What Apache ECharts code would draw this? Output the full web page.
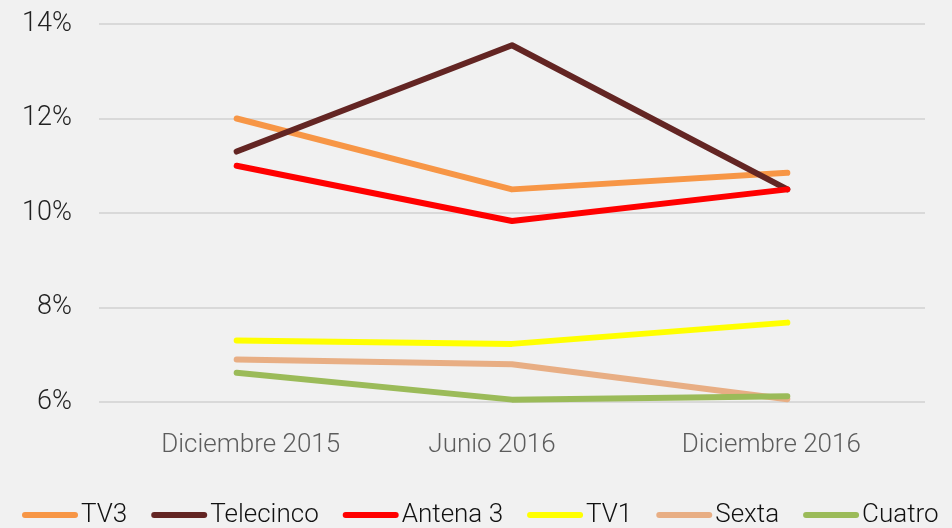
<!DOCTYPE html>
<html>
<head>
  <meta charset="utf-8">
  <title>Audiencias</title>
  <script src="https://cdn.jsdelivr.net/npm/echarts@6/dist/echarts.min.js"></script>
  <style>
    html, body { margin: 0; padding: 0; background: #f1f1f1; }
    #chart { width: 952px; height: 528px; }
  </style>
</head>
<body>
  <div id="chart"></div>
  <script>
    // datos
    var periodos = ['Diciembre 2015', 'Junio 2016', 'Diciembre 2016'];
    var tv3 = [12.0, 10.5, 10.85];
    var telecinco = [11.3, 13.55, 10.5];
    var antena3 = [11.0, 9.83, 10.5];
    var tv1 = [7.3, 7.23, 7.68];
    var sexta = [6.9, 6.8, 6.06];
    var cuatro = [6.62, 6.05, 6.12];

    var cadenas = ['TV3', 'Telecinco', 'Antena 3', 'TV1', 'Sexta', 'Cuatro'];
    var valores = [tv3, telecinco, antena3, tv1, sexta, cuatro];
    var colores = ['#f79646', '#632523', '#ff0000', '#ffff00', '#e8ae84', '#9bbb59'];

    var fuente = 'Roboto, "Liberation Sans", sans-serif';
    // desplazamiento horizontal de cada etiqueta respecto a su punto
    var padEtiquetas = [[0, 0, 0, 28], [0, 40, 0, 0], [0, 32, 0, 0]];

    var chart = echarts.init(document.getElementById('chart'));

    var series = cadenas.map(function (nombre, i) {
      return {
        name: nombre,
        type: 'line',
        data: valores[i],
        symbol: 'none',
        color: colores[i],
        lineStyle: { width: 6, cap: 'round', join: 'round', color: colores[i] }
      };
    });

    var option = {
      backgroundColor: '#f1f1f1',
      animation: false,
      grid: { left: 99, right: 27, top: 24, bottom: 126 },
      legend: {
        data: cadenas,
        left: 22,
        top: 502,
        width: 930,
        padding: 0,
        itemWidth: 56,
        itemHeight: 6,
        itemGap: 24,
        icon: 'path://M3,0 H53 A3,3 0 0 1 53,6 H3 A3,3 0 0 1 3,0 Z',
        textStyle: { fontFamily: fuente, fontWeight: 300, fontSize: 26, color: '#111', padding: [0, 0, 0, -2] }
      },
      xAxis: {
        type: 'category',
        boundaryGap: true,
        data: periodos.map(function (p, i) {
          return { value: p, textStyle: { padding: padEtiquetas[i] } };
        }),
        axisLine: { show: false },
        axisTick: { show: false },
        axisLabel: { margin: 30, fontFamily: fuente, fontWeight: 300, fontSize: 26, color: '#5c5c5c' }
      },
      yAxis: {
        type: 'value',
        min: 6,
        max: 14,
        interval: 2,
        axisLine: { show: false },
        axisTick: { show: false },
        axisLabel: {
          margin: 27,
          fontFamily: fuente,
          fontWeight: 300,
          fontSize: 27,
          color: '#222',
          formatter: function (v) { return v + '%'; }
        },
        splitLine: { lineStyle: { color: '#d9d9d9', width: 2 } }
      },
      series: series
    };

    chart.setOption(option);
  </script>
</body>
</html>
